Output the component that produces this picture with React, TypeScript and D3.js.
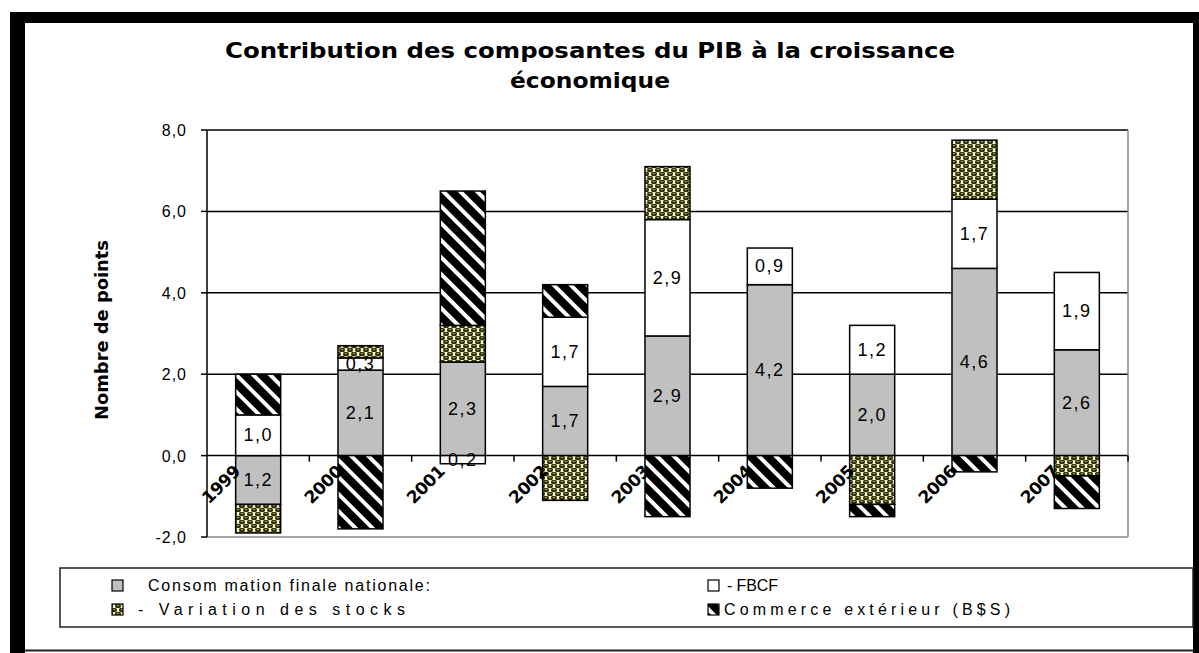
import React from "react";
import * as d3 from "d3";

const years = ["1999", "2000", "2001", "2002", "2003", "2004", "2005", "2006", "2007"];
const conso = [-1.2, 2.1, 2.3, 1.7, 2.94, 4.2, 2.0, 4.6, 2.6];
const fbcf = [1.0, 0.3, -0.2, 1.7, 2.86, 0.9, 1.2, 1.7, 1.9];
const stocks = [-0.7, 0.3, 0.9, -1.1, 1.3, 0, -1.2, 1.45, -0.5];
const commerce = [1.0, -1.8, 3.3, 0.8, -1.5, -0.8, -0.3, -0.4, -0.8];
const yTicks = [-2, 0, 2, 4, 6, 8];
const seriesKeys = ["conso", "fbcf", "stocks", "commerce"];
const seriesNames = [
  "Consom mation finale nationale:",
  "- FBCF",
  "- Variation des stocks",
  "Commerce extérieur (B$S)",
];
const titleLines = ["Contribution des composantes du PIB à la croissance", "économique"];
const yTitle = "Nombre de points";

const W = 1199;
const H = 653;
const PL = 207, PR = 1128, PT = 130, PB = 537;

const fills: Record<string, string> = {
  conso: "#c0c0c0",
  fbcf: "#ffffff",
  stocks: "url(#patStocks)",
  commerce: "url(#patCommerce)",
};

const fmt = (v: number) => d3.format(".1f")(Math.abs(v)).replace(".", ",");

export default function App() {
  const rows = years.map((y, i) => ({
    year: y,
    conso: conso[i],
    fbcf: fbcf[i],
    stocks: stocks[i],
    commerce: commerce[i],
  }));
  const stack = d3.stack<any>().keys(seriesKeys).offset(d3.stackOffsetDiverging);
  const layers = stack(rows);

  const x = d3.scaleBand<string>().domain(years).range([PL, PR]).paddingInner(0.56).paddingOuter(0.28);
  const y = d3.scaleLinear().domain([-2, 8]).range([PB, PT]);
  const step = x.step();
  const font = "'Liberation Sans', Arial, sans-serif";
  const boldFont = "'DejaVu Sans', 'Liberation Sans', sans-serif";

  return (
    <svg width={W} height={H} style={{ position: "absolute", left: 0, top: 0, background: "#fff" }} fontFamily={font}>
      <defs>
        <pattern id="patStocks" width="8" height="8" patternUnits="userSpaceOnUse">
          <rect width="8" height="8" fill="#fbfbd2" />
          <ellipse cx="2" cy="2" rx="3" ry="2.3" fill="#34340a" />
          <ellipse cx="6" cy="6" rx="3" ry="2.3" fill="#34340a" />
          <ellipse cx="-2" cy="6" rx="3" ry="2.3" fill="#34340a" />
          <ellipse cx="10" cy="2" rx="3" ry="2.3" fill="#34340a" />
          <ellipse cx="2" cy="1.4" rx="1.2" ry="0.6" fill="#9a9a60" />
          <ellipse cx="6" cy="5.4" rx="1.2" ry="0.6" fill="#9a9a60" />
        </pattern>
        <pattern id="patCommerce" width="12" height="12" patternUnits="userSpaceOnUse" patternTransform="rotate(-45)">
          <rect width="12" height="12" fill="#fff" />
          <rect width="8" height="12" fill="#000" />
        </pattern>
      </defs>

      {/* outer frame */}
      <rect x={10} y={12} width={W - 10} height={11} fill="#000" />
      <rect x={10} y={12} width={15} height={H - 12} fill="#000" />
      <rect x={1193} y={12} width={6} height={H - 12} fill="#000" />
      <line x1={25} x2={1193} y1={650.5} y2={650.5} stroke="#222" strokeWidth={2} />

      {/* title */}
      <text x={590} y={58} textAnchor="middle" fontSize={21} fontWeight="900" fontFamily={boldFont} textLength={730} lengthAdjust="spacingAndGlyphs">
        {titleLines[0]}
      </text>
      <text x={590} y={88} textAnchor="middle" fontSize={21} fontWeight="900" fontFamily={boldFont} textLength={160} lengthAdjust="spacingAndGlyphs">
        {titleLines[1]}
      </text>

      {/* gridlines */}
      {yTicks.filter((t) => t > -2).map((t) => (
        <line key={t} x1={PL} x2={PR} y1={y(t)} y2={y(t)} stroke="#000" strokeWidth={1.5} />
      ))}
      <line x1={PR} x2={PR} y1={PT} y2={PB} stroke="#888" strokeWidth={1.5} />
      <line x1={PL} x2={PR} y1={PB} y2={PB} stroke="#888" strokeWidth={1.5} />

      {/* bars */}
      {layers.map((layer) =>
        layer.map((d, i) => {
          const y0 = y(d[0]);
          const y1 = y(d[1]);
          const top = Math.min(y0, y1);
          const h = Math.abs(y0 - y1);
          if (h < 0.01) return null;
          return (
            <rect
              key={layer.key + i}
              x={x(years[i])}
              y={top}
              width={x.bandwidth()}
              height={h}
              fill={fills[layer.key]}
              stroke="#000"
              strokeWidth={1.5}
            />
          );
        })
      )}

      {/* data labels */}
      {layers
        .filter((l) => l.key === "conso" || l.key === "fbcf")
        .map((layer) =>
          layer.map((d, i) => {
            const v = (d.data as any)[layer.key];
            if (!v) return null;
            const cy = (y(d[0]) + y(d[1])) / 2;
            return (
              <text
                key={"lab" + layer.key + i}
                x={(x(years[i]) as number) + x.bandwidth() / 2}
                y={cy + 6}
                textAnchor="middle"
                fontSize={18}
                letterSpacing={1.5}
                fill="#000"
              >
                {fmt(v)}
              </text>
            );
          })
        )}

      {/* axes */}
      <line x1={PL} x2={PL} y1={PT} y2={PB} stroke="#000" strokeWidth={1.5} />
      {yTicks.map((t) => (
        <g key={"yt" + t}>
          <line x1={PL - 6} x2={PL} y1={y(t)} y2={y(t)} stroke="#000" strokeWidth={1.5} />
          <text x={187} y={y(t) + 6} textAnchor="end" fontSize={16} letterSpacing={1}>
            {d3.format(".1f")(t).replace(".", ",").replace("−", "-")}
          </text>
        </g>
      ))}
      {years.map((yr, i) => (
        <line
          key={"xt" + yr}
          x1={PL + step * (i + 1)}
          x2={PL + step * (i + 1)}
          y1={y(0)}
          y2={y(0) + 6}
          stroke="#000"
          strokeWidth={1.5}
        />
      ))}
      {years.map((yr) => {
        const cx = (x(yr) as number) + x.bandwidth() / 2 - 17;
        const cy = y(0) + 17;
        return (
          <text
            key={"xl" + yr}
            transform={`translate(${cx},${cy}) rotate(-45)`}
            textAnchor="end"
            fontSize={17}
            fontWeight="bold"
            fontFamily={boldFont}
            letterSpacing={-0.5}
          >
            {yr}
          </text>
        );
      })}

      {/* y title */}
      <text
        transform={`translate(108,330) rotate(-90)`}
        textAnchor="middle"
        fontSize={17}
        fontWeight="bold"
        fontFamily={boldFont}
        textLength={180}
        lengthAdjust="spacingAndGlyphs"
      >
        {yTitle}
      </text>

      {/* legend */}
      <rect x={60} y={568} width={1133} height={59} fill="none" stroke="#222" strokeWidth={1.5} />
      {seriesKeys.map((k, i) => {
        const col = i === 0 || i === 2 ? 0 : 1;
        const row = i < 2 ? 0 : 1;
        const mx = col === 0 ? 112 : 708;
        const my = row === 0 ? 580 : 604;
        const tx = col === 0 ? (i === 0 ? 148 : 138) : i === 1 ? 727 : 724;
        const lens = [282, 51, 267, 286];
        return (
          <g key={"lg" + k}>
            <rect x={mx} y={my} width={11} height={11} fill={fills[k]} stroke="#000" strokeWidth={1.2} />
            <text x={tx} y={my + 11} fontSize={16} textLength={lens[i]} lengthAdjust="spacing">
              {seriesNames[i]}
            </text>
          </g>
        );
      })}
    </svg>
  );
}
